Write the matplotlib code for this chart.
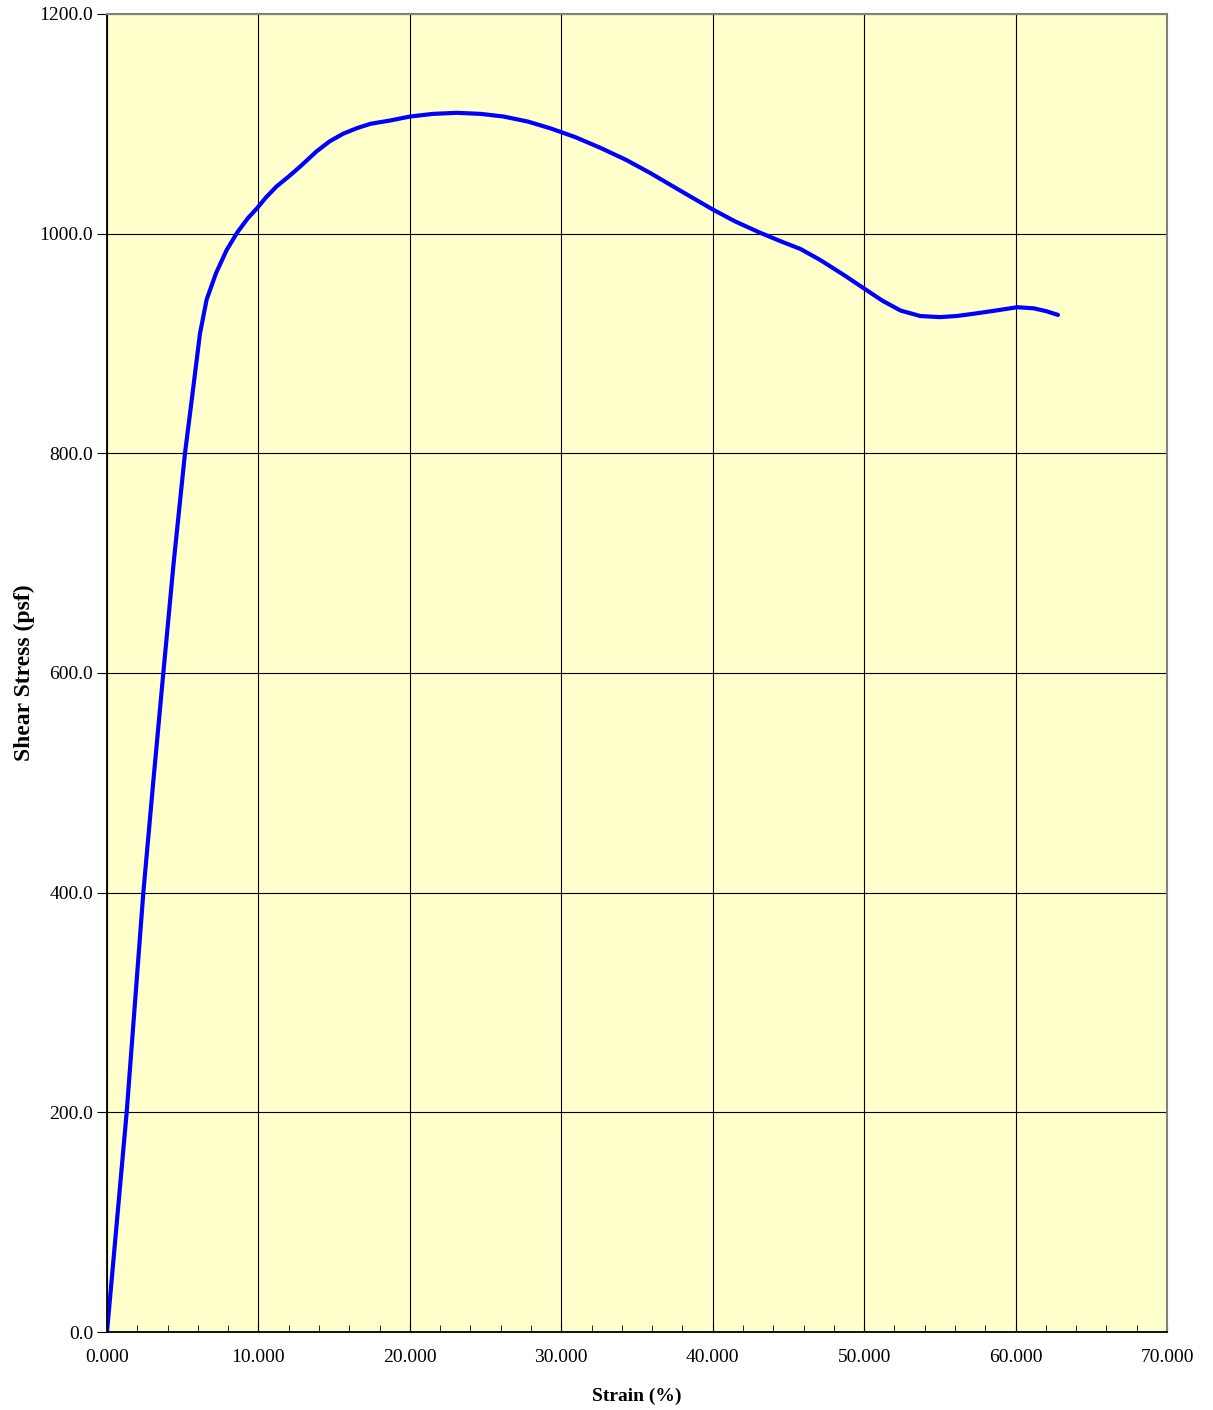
import matplotlib.pyplot as plt
from matplotlib.ticker import MultipleLocator, FormatStrFormatter

# values
strain = [0.0, 0.65, 1.3, 1.85, 2.4, 3.05, 3.72, 4.4, 5.15, 5.6, 6.14, 6.58,
          7.2, 7.9, 8.6, 9.3, 9.9, 10.5, 11.2, 12.0, 12.75, 13.85, 14.7,
          15.6, 16.5, 17.4, 18.7, 20.0, 21.5, 23.1, 24.7, 26.2, 27.8, 29.25,
          30.9, 32.6, 34.3, 35.9, 38.0, 40.0, 41.5, 43.1, 44.5, 45.8, 47.1,
          48.7, 50.0, 51.2, 52.4, 53.7, 55.0, 56.1, 57.2, 58.7, 60.1, 61.2,
          62.0, 62.8]
stress = [0, 100, 200, 300, 400, 500, 600, 700, 800, 849, 909, 940,
          964, 985, 1001, 1014, 1023, 1033, 1043, 1052, 1061, 1075, 1084,
          1091, 1096, 1100, 1103, 1106.6, 1109, 1110, 1109, 1106.6, 1102, 1096,
          1088, 1078, 1067, 1055, 1038, 1022, 1011, 1001, 993, 986, 976,
          962, 950, 939, 930, 925, 924, 925, 927, 930, 933, 932,
          929.5, 926]

plt.rcParams['font.family'] = 'Liberation Serif'

fig = plt.figure(figsize=(12.13, 14.10), dpi=100)
ax = fig.add_axes([0.0882, 0.0553, 0.8739, 0.9348])
ax.set_facecolor('#FFFFCC')

ax.plot(strain, stress, color='#0000FF', linewidth=3,
        solid_capstyle='round', solid_joinstyle='round')

ax.set_xlim(0, 70)
ax.set_ylim(0, 1200)
ax.xaxis.set_major_locator(MultipleLocator(10))
ax.xaxis.set_minor_locator(MultipleLocator(2))
ax.yaxis.set_major_locator(MultipleLocator(200))
ax.xaxis.set_major_formatter(FormatStrFormatter('%.3f'))
ax.yaxis.set_major_formatter(FormatStrFormatter('%.1f'))

ax.grid(True, which='major', color='black', linewidth=0.8)
ax.tick_params(axis='x', which='both', direction='in', labelsize=14, pad=12)
ax.tick_params(axis='x', which='major', length=5)
ax.tick_params(axis='x', which='minor', length=5)
ax.tick_params(axis='y', direction='out', length=7, labelsize=14, pad=3)

for s in ['top', 'right']:
    ax.spines[s].set_color('#808080')
    ax.spines[s].set_linewidth(1.5)
for s in ['left', 'bottom']:
    ax.spines[s].set_color('black')
    ax.spines[s].set_linewidth(1.3)

ax.set_xlabel('Strain (%)', fontsize=14, fontweight='bold', labelpad=16)
ax.set_ylabel('Shear Stress (psf)', fontsize=17, fontweight='bold', labelpad=3)

fig.savefig('out.png', dpi=100)
